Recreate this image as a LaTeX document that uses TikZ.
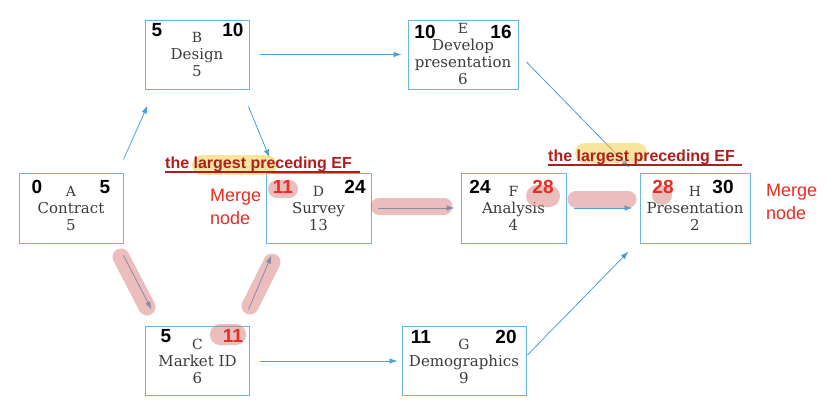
\documentclass[tikz,border=0pt]{standalone}
\usepackage{fontspec}
\usepackage{tikz}
\usetikzlibrary{arrows.meta,calc}
\usepackage{xcolor}
\newfontfamily\boxfont{DejaVu Serif}
\newfontfamily\numfont{Liberation Sans}
\definecolor{boxblue}{RGB}{105,180,230}
\definecolor{arrowblue}{RGB}{75,160,220}
\definecolor{textgray}{RGB}{60,60,60}
\definecolor{numred}{RGB}{230,45,35}
\definecolor{labelred}{RGB}{175,30,30}
\definecolor{hlpink}{RGB}{215,110,110}
\definecolor{hlyellow}{RGB}{240,205,60}
\newcommand{\tasklet}[1]{{\fontsize{14}{17}\selectfont #1}}
\tikzset{
  taskbox/.style={draw=boxblue, line width=1pt, inner sep=0pt, align=center,
    text=textgray, font=\boxfont\fontsize{15}{17}\selectfont},
  esef/.style={inner sep=0pt, font=\numfont\bfseries\fontsize{19}{19}\selectfont},
  link/.style={->, arrowblue, line width=0.8pt},
  hlpath/.style={hlpink, opacity=0.45, line width=17pt, line cap=round},
  hlmark/.style={hlyellow, opacity=0.5, line width=20pt, line cap=round},
  bignote/.style={anchor=base west, inner sep=0pt, text=labelred,
    font=\numfont\bfseries\fontsize{16}{16}\selectfont},
  merge/.style={anchor=west, align=left, inner sep=0pt, text=numred,
    font=\numfont\fontsize{18}{23}\selectfont},
}
\begin{document}
\begin{tikzpicture}[x=1pt, y=-1pt, >={Latex[length=8pt,width=5.5pt]}]
  \fill[white] (0,0) rectangle (830,418);
  \useasboundingbox (0,0) rectangle (830,418);
  % Boxes
  \node[taskbox, minimum width=104pt, minimum height=70pt] (A) at (71,208) {\tasklet{A}\\Contract\\5};
  \node[taskbox, minimum width=104pt, minimum height=69pt] (B) at (197,54.5) {\tasklet{B}\\Design\\5};
  \node[taskbox, minimum width=104pt, minimum height=69pt] (C) at (197.5,361) {\tasklet{C}\\Market ID\\6};
  \node[taskbox, minimum width=105pt, minimum height=70pt] (D) at (318.5,208) {\tasklet{D}\\Survey\\13};
  \node[taskbox, minimum width=110pt, minimum height=69pt] (E) at (463,54.5) {\tasklet{E}\\Develop\\presentation\\6};
  \node[taskbox, minimum width=105pt, minimum height=70pt] (F) at (513.5,208) {\tasklet{F}\\Analysis\\4};
  \node[taskbox, minimum width=124pt, minimum height=69pt] (G) at (464,361) {\tasklet{G}\\Demographics\\9};
  \node[taskbox, minimum width=110pt, minimum height=70pt] (H) at (695,208) {\tasklet{H}\\Presentation\\2};
  % Arrows
  \draw[link] ($(A.north east)+(0,-13)$) -- ($(B.south west)+(3,16)$);
  \draw[link] ($(B.south east)+(-1,17)$) -- ($(D.north west)+(4,-15)$);
  \draw[link] ($(B.east)+(10,0)$) -- ($(E.west)+(-6,0)$);
  \draw[link] ($(E.east)+(8,7.5)$) -- ($(H.north west)+(-10,-5)$);
  \draw[link] ($(D.east)+(6,0)$) -- ($(F.west)+(-6,0)$);
  \draw[link] ($(F.east)+(7,0)$) -- ($(H.west)+(-7,0)$);
  \draw[link] ($(A.south east)+(0,12)$) -- ($(C.north west)+(6.5,-16.5)$);
  \draw[link] ($(C.north east)+(-1.5,-16.5)$) -- ($(D.south west)+(6,12)$);
  \draw[link] ($(C.east)+(10,0)$) -- ($(G.west)+(-4,0)$);
  \draw[link] ($(G.east)+(1,-6)$) -- ($(H.south west)+(-11,8)$);
  % Highlights
  \draw[hlpath] (121,257) -- (147,307);
  \draw[hlpath] (250,306) -- (272,262);
  \draw[hlpath] (379,206) -- (444,206);
  \draw[hlpath] (576,199) -- (628,199);
  \fill[hlpink, opacity=0.45, rounded corners=9pt] (268,180) rectangle (298,198);
  \fill[hlpink, opacity=0.45, rounded corners=10pt] (210,324) rectangle (246,345);
  \fill[hlpink, opacity=0.45, rounded corners=11pt] (526,185) rectangle (560,207);
  \fill[hlpink, opacity=0.45] (662,195) circle (10);
  \draw[hlmark] (202,165) -- (267,165);
  \draw[hlmark] (585,153) -- (637,153);
  % Early start / finish
  \node[esef] (A-es) at (37,187) {0};
  \node[esef] (A-ef) at (105,187) {5};
  \node[esef] (B-es) at (157,30) {5};
  \node[esef] (B-ef) at (233,30) {10};
  \node[esef] (C-es) at (166,336) {5};
  \node[esef, text=numred] (C-ef) at (233,336) {11};
  \node[esef, text=numred] (D-es) at (283,187) {11};
  \node[esef] (D-ef) at (355,187) {24};
  \node[esef] (E-es) at (425,32) {10};
  \node[esef] (E-ef) at (501,32) {16};
  \node[esef] (F-es) at (480,187) {24};
  \node[esef, text=numred] (F-ef) at (543,187) {28};
  \node[esef] (G-es) at (421,337) {11};
  \node[esef] (G-ef) at (506,337) {20};
  \node[esef, text=numred] (H-es) at (663,187) {28};
  \node[esef] (H-ef) at (723,187) {30};
  % Notes
  \node[bignote] (note1) at (165,168) {the largest preceding EF};
  \draw[labelred, line width=1.2pt] ($(note1.base west)+(0,4)$) -- ($(note1.base east)+(8,4)$);
  \node[bignote] (note2) at (548,161) {the largest preceding EF};
  \draw[labelred, line width=1.2pt] ($(note2.base west)+(0,4)$) -- ($(note2.base east)+(7,4)$);
  \node[merge] (merge1) at (210,207) {Merge\\node};
  \node[merge] (merge2) at (766,202) {Merge\\node};
\end{tikzpicture}
\end{document}
